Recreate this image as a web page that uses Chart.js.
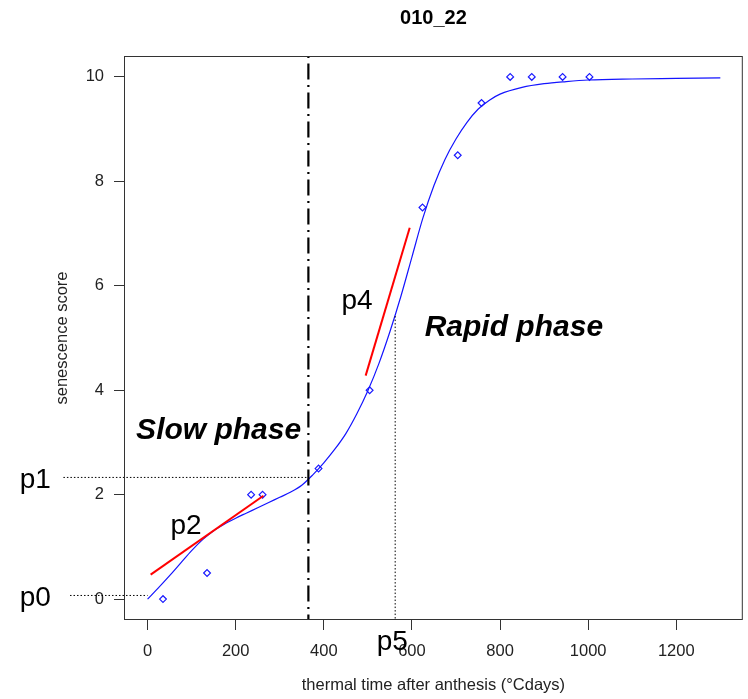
<!DOCTYPE html>
<html><head><meta charset="utf-8">
<script src="https://cdn.jsdelivr.net/npm/chart.js@4.4.1/dist/chart.umd.min.js"></script>
<style>html,body{margin:0;padding:0;background:#fff}#wrap{width:748px;height:699px;position:relative}</style>
</head><body><div id="wrap"><canvas id="c"></canvas></div>
<script>
// ---- data ----
const chartTitle = '010_22';
const xAxisTitle = 'thermal time after anthesis (°Cdays)';
const yAxisTitle = 'senescence score';
const xTicks = [0, 200, 400, 600, 800, 1000, 1200];
const yTicks = [0, 2, 4, 6, 8, 10];

// observed scores (open diamonds)
const obsX = [35, 135, 235, 261, 388, 504, 624, 704, 758, 823, 872, 942, 1003];
const obsY = [0, 0.5, 2, 2, 2.5, 4, 7.5, 8.5, 9.5, 10, 10, 10, 10];

// fitted curve (blue line)
const fitX = [0, 25, 50, 75, 100, 125, 150, 175, 200, 225, 250, 275, 300, 325, 350, 375, 400, 425, 450, 475, 500, 525, 550, 575, 600, 625, 650, 675, 700, 725, 750, 775, 800, 850, 900, 950, 1000, 1100, 1200, 1300];
const fitY = [0, 0.22, 0.45, 0.69, 0.93, 1.14, 1.31, 1.44, 1.55, 1.65, 1.75, 1.85, 1.95, 2.05, 2.18, 2.38, 2.61, 2.87, 3.17, 3.55, 3.99, 4.51, 5.12, 5.8, 6.55, 7.3, 7.92, 8.42, 8.81, 9.13, 9.38, 9.55, 9.67, 9.8, 9.87, 9.91, 9.94, 9.96, 9.97, 9.98];

// slope segments (red)
const p2X = [7, 263];
const p2Y = [0.47, 1.98];
const p4X = [495, 595];
const p4Y = [4.28, 7.11];

// phase boundary and parameters
const p1Time = 365;          // end of slow phase (vertical dot-dash)
const p1Score = 2.33;
const p0Score = 0.07;
const p5Time = 562;
const p5Score = 5.42;
const guideStartX = [-191, -176];  // where the p1 and p0 dotted guides start

const xMin = -53.5, xMax = 1351;
const yMin = -0.4, yMax = 10.4;

// text annotations: [text, x, y, style]
const labels = [
  ['p1', -290, 2.12, '28px'],
  ['p0', -290, -0.14, '28px'],
  ['p2', 52, 1.255, '28px'],
  ['p4', 440, 5.546, '28px'],
  ['p5', 520, -0.98, '28px'],
  ['Slow phase', -26, 3.07, 'italic bold 30px'],
  ['Rapid phase', 629, 5.03, 'italic bold 30px']
];

const FONT = '"Liberation Sans", Arial, Helvetica, sans-serif';
const pts = (xs, ys) => xs.map((x, i) => ({x: x, y: ys[i]}));

const boxPlugin = {
  id: 'boxAndText',
  afterDatasetsDraw(chart) {
    const {ctx, chartArea: a, scales} = chart;
    ctx.save();
    ctx.strokeStyle = '#333';
    ctx.lineWidth = 1;
    ctx.strokeRect(a.left + 0.5, a.top + 0.5, a.right - a.left - 1, a.bottom - a.top - 1);
    ctx.fillStyle = '#000';
    ctx.textAlign = 'left';
    ctx.textBaseline = 'alphabetic';
    labels.forEach(([t, x, y, st]) => {
      ctx.font = st + ' ' + FONT;
      ctx.fillText(t, scales.x.getPixelForValue(x), scales.y.getPixelForValue(y));
    });
    ctx.font = 'bold 20px ' + FONT;
    ctx.textAlign = 'center';
    ctx.textBaseline = 'middle';
    ctx.fillText(chartTitle, (a.left + a.right) / 2, 18);
    ctx.restore();
  }
};

const dotted = [1.5, 2];

new Chart(document.getElementById('c'), {
  type: 'scatter',
  data: {
    datasets: [
      {data: pts([p1Time, p1Time], [yMax, yMin]), showLine: true, borderColor: '#000', borderWidth: 2.2, borderDash: [2, 5.5, 16, 5.5], pointRadius: 0, clip: false},
      {data: pts([guideStartX[0], p1Time], [p1Score, p1Score]), showLine: true, borderColor: '#000', borderWidth: 1, borderDash: dotted, pointRadius: 0, clip: false},
      {data: pts([guideStartX[1], 0], [p0Score, p0Score]), showLine: true, borderColor: '#000', borderWidth: 1, borderDash: dotted, pointRadius: 0, clip: false},
      {data: pts([p5Time, p5Time], [p5Score, yMin]), showLine: true, borderColor: '#000', borderWidth: 1, borderDash: dotted, pointRadius: 0, clip: false},
      {data: pts(p2X, p2Y), showLine: true, borderColor: '#ff0000', borderWidth: 2, pointRadius: 0},
      {data: pts(p4X, p4Y), showLine: true, borderColor: '#ff0000', borderWidth: 2, pointRadius: 0},
      {data: pts(fitX, fitY), showLine: true, borderColor: '#1414ff', borderWidth: 1.2, pointRadius: 0, cubicInterpolationMode: 'monotone'},
      {data: pts(obsX, obsY), showLine: false, pointStyle: 'rectRot', pointRadius: 3.4, borderColor: '#1a1aff', borderWidth: 1.2, backgroundColor: 'rgba(0,0,0,0)'}
    ]
  },
  options: {
    responsive: true,
    maintainAspectRatio: false,
    animation: false,
    events: [],
    layout: {padding: {top: 56, left: 0, right: 2, bottom: 0}},
    plugins: {legend: {display: false}, tooltip: {enabled: false}, title: {display: false}},
    scales: {
      x: {
        type: 'linear', min: xMin, max: xMax, bounds: 'data',
        afterBuildTicks: s => { s.ticks = xTicks.map(v => ({value: v})); },
        afterFit: s => { s.height = 79; },
        grid: {drawOnChartArea: false, drawTicks: true, tickLength: 10, tickColor: '#333', tickWidth: 1},
        border: {display: false},
        ticks: {callback: v => String(v), color: '#222', font: {family: FONT, size: 16.5}, padding: 12, maxRotation: 0, autoSkip: false},
        title: {display: true, text: xAxisTitle, color: '#222', font: {family: FONT, size: 16.5}, padding: {top: 0, bottom: 4}}
      },
      y: {
        type: 'linear', min: yMin, max: yMax, bounds: 'data',
        afterBuildTicks: s => { s.ticks = yTicks.map(v => ({value: v})); },
        afterFit: s => { s.width = 124; },
        grid: {drawOnChartArea: false, drawTicks: true, tickLength: 10, tickColor: '#333', tickWidth: 1},
        border: {display: false},
        ticks: {callback: v => String(v), color: '#222', font: {family: FONT, size: 16.5}, padding: 10, autoSkip: false},
        title: {display: true, text: yAxisTitle, color: '#222', font: {family: FONT, size: 16.5}, padding: {top: 53, bottom: 0}}
      }
    }
  },
  plugins: [boxPlugin]
});
</script>
</body></html>
